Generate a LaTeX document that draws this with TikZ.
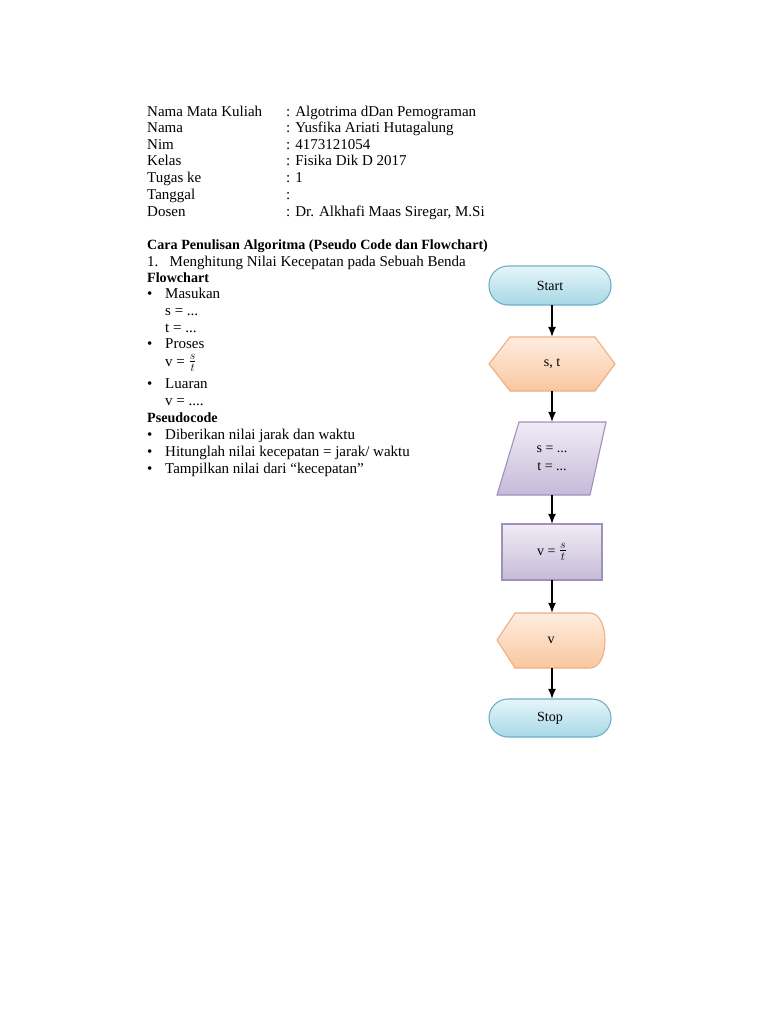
\documentclass[tikz,border=0pt]{standalone}
\usepackage{fontspec}
\setmainfont{Liberation Serif}
\usetikzlibrary{arrows.meta}
\definecolor{bluetop}{HTML}{E6F5F9}
\definecolor{bluebot}{HTML}{A6D8E6}
\definecolor{blueline}{HTML}{72AFC6}
\definecolor{orgtop}{HTML}{FEEDE0}
\definecolor{orgbot}{HTML}{F9C7A0}
\definecolor{orgline}{HTML}{F0AE80}
\definecolor{purtop}{HTML}{F0ECF5}
\definecolor{purbot}{HTML}{C6BAD9}
\definecolor{purline}{HTML}{A090BE}
\newcommand{\svt}{{\fontsize{17}{17}\selectfont$\frac{s}{t}$}}
\tikzset{
  txt/.style={anchor=base west, inner sep=0pt, font=\fontsize{15}{16}\selectfont},
  btxt/.style={txt, font=\fontsize{14.1}{16}\selectfont\bfseries},
  box/.style={inner sep=0pt, font=\fontsize{14}{16}\selectfont},
  blueshape/.style={draw=blueline, line width=1.1pt, top color=bluetop, bottom color=bluebot},
  orgshape/.style={draw=orgline, line width=1.1pt, top color=orgtop, bottom color=orgbot},
  purshape/.style={draw=purline, line width=1.1pt, top color=purtop, bottom color=purbot},
  arr/.style={line width=1.4pt, -{Latex[length=10pt,width=8pt]}}
}
\begin{document}
\begin{tikzpicture}[x=1pt,y=-1pt]
\useasboundingbox (0,0) rectangle (768,1024);
% header
\node[txt] (l1) at (147,117) {Nama Mata Kuliah};
\node[txt] (l2) at (147,133) {Nama};
\node[txt] (l3) at (147,150) {Nim};
\node[txt] (l4) at (147,166) {Kelas};
\node[txt] (l5) at (147,183) {Tugas ke};
\node[txt] (l6) at (147,200) {Tanggal};
\node[txt] (l7) at (147,217) {Dosen};
\node[txt] (r1) at (286,117) {: Algotrima dDan Pemograman};
\node[txt] (r2) at (286,133) {: Yusfika Ariati Hutagalung};
\node[txt] (r3) at (286,150) {: 4173121054};
\node[txt] (r4) at (286,166) {: Fisika Dik D 2017};
\node[txt] (r5) at (286,183) {: 1};
\node[txt] (r6) at (286,200) {:};
\node[txt] (r7) at (286,217) {: Dr. Alkhafi Maas Siregar, M.Si};
% body
\node[btxt] (h1) at (147,249) {Cara Penulisan Algoritma (Pseudo Code dan Flowchart)};
\node[txt] (h2) at (147,266) {1.\ \ \ Menghitung Nilai Kecepatan pada Sebuah Benda};
\node[btxt] (h3) at (147,282) {Flowchart};
\node[txt] (b1) at (147,298) {\textbullet};
\node[txt] (b1t) at (165,298) {Masukan};
\node[txt] (b1a) at (165,315) {s = ...};
\node[txt] (b1b) at (165,332) {t = ...};
\node[txt] (b2) at (147,348) {\textbullet};
\node[txt] (b2t) at (165,348) {Proses};
\node[txt] (b2a) at (165,366) {v = \svt};
\node[txt] (b3) at (147,388) {\textbullet};
\node[txt] (b3t) at (165,388) {Luaran};
\node[txt] (b3a) at (165,405) {v = ....};
\node[btxt] (h4) at (147,422) {Pseudocode};
\node[txt] (p1) at (147,439) {\textbullet};
\node[txt] (p1t) at (165,439) {Diberikan nilai jarak dan waktu};
\node[txt] (p2) at (147,456) {\textbullet};
\node[txt] (p2t) at (165,456) {Hitunglah nilai kecepatan = jarak/ waktu};
\node[txt] (p3) at (147,473) {\textbullet};
\node[txt] (p3t) at (165,473) {Tampilkan nilai dari ``kecepatan''};
% flowchart shapes
\draw[blueshape, rounded corners=19pt] (489,266) rectangle (611,305);
\node[box, minimum width=122pt, minimum height=39pt] (start) at (550,285.5) {Start};
\draw[orgshape] (489,364) -- (510,337) -- (595,337) -- (615,364) -- (595,391) -- (510,391) -- cycle;
\node[box, minimum width=126pt, minimum height=54pt] (inp) at (552,364) {s, t};
\draw[purshape] (519,422) -- (606,422) -- (590,495) -- (497,495) -- cycle;
\node[box, minimum width=80pt, minimum height=73pt, align=center] (par) at (552,458.5) {s = ...\\[2pt]t = ...};
\draw[purshape] (502,524) rectangle (602,580);
\node[box, minimum width=100pt, minimum height=56pt] (proc) at (552,552) {v = \svt};
\draw[orgshape] (497,640) -- (515,613) -- (590,613) .. controls (610,613) and (610,668) .. (590,668) -- (515,668) -- cycle;
\node[box, minimum width=100pt, minimum height=55pt] (disp) at (551,640.5) {v};
\draw[blueshape, rounded corners=19pt] (489,699) rectangle (611,737);
\node[box, minimum width=122pt, minimum height=38pt] (stop) at (550,718) {Stop};
% connectors
\draw[arr] (start.south -| inp.north) -- (inp.north);
\draw[arr] (inp.south) -- (par.north);
\draw[arr] (par.south) -- (proc.north);
\draw[arr] (proc.south) -- (disp.north -| proc.south);
\draw[arr] (disp.south -| proc.south) -- (stop.north -| proc.south);
\end{tikzpicture}
\end{document}
